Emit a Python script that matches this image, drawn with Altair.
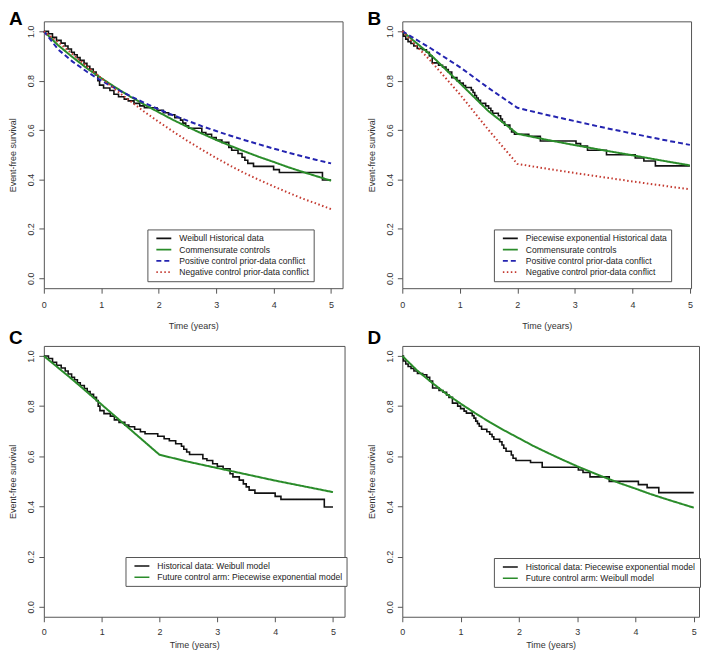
import altair as alt
import pandas as pd

FONT = "Liberation Sans"

# ---------------- data ----------------
# Kaplan-Meier of historical data simulated from a Weibull model (panels A, C)
wb_hist_t = [0.00, 0.08, 0.15, 0.22, 0.30, 0.37, 0.42, 0.48, 0.53, 0.58, 0.63, 0.70,
             0.75, 0.80, 0.86, 0.91, 0.94, 0.97, 1.04, 1.15, 1.22, 1.30, 1.40, 1.47,
             1.57, 1.67, 1.75, 1.97, 2.08, 2.17, 2.28, 2.38, 2.42, 2.47, 2.52, 2.75,
             2.82, 2.92, 3.00, 3.10, 3.22, 3.27, 3.38, 3.45, 3.50, 3.55, 3.65, 4.00,
             4.10, 4.85, 5.00]
wb_hist_s = [1.000, 0.990, 0.975, 0.963, 0.952, 0.940, 0.928, 0.915, 0.905, 0.893, 0.882, 0.870,
             0.858, 0.847, 0.835, 0.822, 0.800, 0.782, 0.770, 0.760, 0.745, 0.735, 0.725, 0.718,
             0.708, 0.698, 0.690, 0.680, 0.670, 0.662, 0.650, 0.640, 0.628, 0.617, 0.607, 0.590,
             0.583, 0.570, 0.560, 0.550, 0.530, 0.518, 0.505, 0.490, 0.478, 0.465, 0.453, 0.440,
             0.428, 0.398, 0.398]

# Kaplan-Meier of historical data simulated from a piecewise exponential model (panels B, D)
pw_hist_t = [0.00, 0.02, 0.06, 0.10, 0.15, 0.20, 0.26, 0.35, 0.42, 0.47, 0.52, 0.63,
             0.70, 0.76, 0.80, 0.86, 0.95, 1.00, 1.06, 1.10, 1.20, 1.23, 1.26, 1.29,
             1.32, 1.36, 1.45, 1.50, 1.54, 1.57, 1.67, 1.71, 1.74, 1.78, 1.87, 1.90,
             1.95, 2.20, 2.40, 3.02, 3.10, 3.22, 3.55, 4.05, 4.20, 4.40, 5.00]
pw_hist_s = [1.000, 0.980, 0.968, 0.958, 0.950, 0.940, 0.930, 0.925, 0.915, 0.900, 0.872, 0.862,
             0.855, 0.845, 0.835, 0.812, 0.800, 0.790, 0.780, 0.772, 0.762, 0.752, 0.740, 0.730,
             0.720, 0.708, 0.698, 0.688, 0.678, 0.668, 0.658, 0.645, 0.632, 0.620, 0.605, 0.592,
             0.583, 0.575, 0.556, 0.545, 0.535, 0.518, 0.500, 0.487, 0.475, 0.455, 0.455]

# Weibull model curves (panel A; green also in panel D)
wb_t = [0.00, 0.25, 0.50, 0.75, 1.00, 1.25, 1.50, 1.75, 2.00, 2.25, 2.50, 2.75,
        3.00, 3.25, 3.50, 3.75, 4.00, 4.25, 4.50, 4.75, 5.00]
wb_comm = [1.000, 0.943, 0.895, 0.850, 0.810, 0.772, 0.736, 0.703, 0.672, 0.641, 0.613, 0.586,
           0.560, 0.536, 0.513, 0.491, 0.471, 0.450, 0.431, 0.413, 0.395]
wb_pos = [1.000, 0.926, 0.877, 0.836, 0.800, 0.768, 0.738, 0.710, 0.684, 0.660, 0.638, 0.616,
          0.596, 0.577, 0.559, 0.542, 0.525, 0.509, 0.494, 0.479, 0.465]
wb_neg = [1.000, 0.956, 0.907, 0.858, 0.810, 0.763, 0.718, 0.674, 0.633, 0.594, 0.556, 0.521,
          0.487, 0.455, 0.425, 0.398, 0.372, 0.347, 0.323, 0.302, 0.280]

# Piecewise exponential model curves (panel B)
pw_t = [0.0, 0.5, 1.0, 1.5, 2.0, 2.5, 3.0, 3.5, 4.0, 4.5, 5.0]
pw_comm = [1.000, 0.903, 0.790, 0.676, 0.585, 0.561, 0.539, 0.518, 0.498, 0.477, 0.457]
pw_pos = [1.000, 0.930, 0.855, 0.770, 0.690, 0.662, 0.636, 0.610, 0.586, 0.562, 0.540]
pw_neg = [1.000, 0.878, 0.745, 0.600, 0.463, 0.444, 0.426, 0.409, 0.392, 0.376, 0.360]
# Future control arm, piecewise exponential (panel C)
pc_future = [1.000, 0.905, 0.806, 0.706, 0.606, 0.578, 0.553, 0.528, 0.503, 0.480, 0.457]

x_ticks = [0, 1, 2, 3, 4, 5]
y_ticks = [0.0, 0.2, 0.4, 0.6, 0.8, 1.0]

COLORS = ["#111111", "#2a8c2a", "#2424b0", "#c43a30"]
DASHES = [[1, 0], [1, 0], [5, 3], [1.5, 2.5]]


def panel(letter, hist_name, hist_t, hist_s, models, width, height, xmax, lx, ly, toff,
          lpad, tpad):
    names = [hist_name] + [m[0] for m in models]
    n = len(names)
    hist_df = pd.DataFrame({"t": hist_t, "s": hist_s, "series": hist_name})
    rows = []
    for name, ts, ss in models:
        rows += [{"t": a, "s": b, "series": name} for a, b in zip(ts, ss)]
    model_df = pd.DataFrame(rows)

    x = alt.X("t:Q", scale=alt.Scale(domain=[0, xmax], nice=False, zero=False),
              axis=alt.Axis(values=x_ticks, format="d", title="Time (years)",
                            labelPadding=lpad, titlePadding=tpad))
    y = alt.Y("s:Q", scale=alt.Scale(domain=[-0.04, 1.04], nice=False, zero=False),
              axis=alt.Axis(values=y_ticks, format=".1f", title="Event-free survival"))
    leg = alt.Legend(title=None, orient="none", legendX=lx, legendY=ly)
    color = alt.Color("series:N", scale=alt.Scale(domain=names, range=COLORS[:n]), legend=leg)
    dash = alt.StrokeDash("series:N", scale=alt.Scale(domain=names, range=DASHES[:n]), legend=leg)

    hist = alt.Chart(hist_df).mark_line(interpolate="step-after", strokeWidth=1.6).encode(
        x=x, y=y, color=color, strokeDash=dash)
    mod = alt.Chart(model_df).mark_line(strokeWidth=2).encode(
        x=x, y=y, color=color, strokeDash=dash)
    return alt.layer(hist, mod).properties(
        width=width, height=height,
        title=alt.TitleParams(text=letter, anchor="start", frame="group", fontSize=19,
                              fontWeight="bold", font=FONT, color="black", dx=-35, offset=toff),
    )


pA = panel("A", "Weibull Historical data", wb_hist_t, wb_hist_s,
           [("Commensurate controls", wb_t, wb_comm),
            ("Positive control prior-data conflict", wb_t, wb_pos),
            ("Negative control prior-data conflict", wb_t, wb_neg)],
           300, 268, 5.2, 104, 209, -8, 7.5, 11.5)
pB = panel("B", "Piecewise exponential Historical data", pw_hist_t, pw_hist_s,
           [("Commensurate controls", pw_t, pw_comm),
            ("Positive control prior-data conflict", pw_t, pw_pos),
            ("Negative control prior-data conflict", pw_t, pw_neg)],
           290, 268, 5.02, 92, 209, -8, 7.5, 11.5)
pC = panel("C", "Historical data: Weibull model", wb_hist_t, wb_hist_s,
           [("Future control arm: Piecewise exponential model", pw_t, pc_future)],
           302, 272, 5.2, 82, 212, -2, 6, 4)
pD = panel("D", "Historical data: Piecewise exponential model", pw_hist_t, pw_hist_s,
           [("Future control arm: Weibull model", wb_t, wb_comm)],
           298, 272, 5.09, 92, 213, -2, 6, 4)

chart = alt.concat(
    pA, pB, pC, pD, columns=2, spacing={"row": 58, "column": 58}, bounds="flush", align="each"
).resolve_scale(
    color="independent", strokeDash="independent"
).properties(padding=0).configure_axis(
    grid=False, domain=False, tickColor="#555", tickSize=5, labelFont=FONT, labelFontSize=9,
    labelColor="#333", titleFont=FONT, titleFontSize=9, titleFontWeight="normal",
    titleColor="#333", labelFlush=False, labelOverlap=False,
).configure_axisY(
    labelAngle=270, labelAlign="center", labelBaseline="bottom", labelPadding=3, titlePadding=9
).configure_view(stroke="#555", strokeWidth=1).configure_legend(
    strokeColor="#555", fillColor="white", padding=4, symbolType="M0,0H3.75", symbolSize=64,
    symbolStrokeWidth=1.6, labelFont=FONT, labelFontSize=8.6, labelColor="#222",
    rowPadding=1.3, labelOffset=18, labelLimit=300,
)

chart.save("out.html", embed_options={"renderer": "svg", "actions": False})
